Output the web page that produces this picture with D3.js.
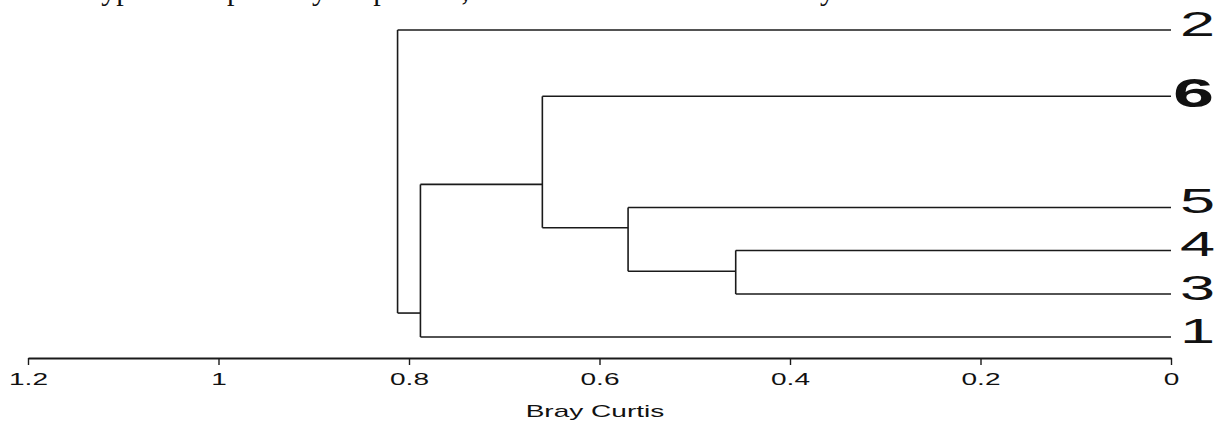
<!DOCTYPE html>
<html>
<head>
<meta charset="utf-8">
<script src="https://cdn.jsdelivr.net/npm/d3@7"></script>
<style>
  body { margin: 0; background: #fff; }
  svg { display: block; }
</style>
</head>
<body>
<div id="dendro"></div>
<script>
var svgWidth = 1217;
var svgHeight = 425;

// leaves, top to bottom, and their row position (0 = top leaf, 1 = bottom leaf)
var leaves = ["2", "6", "5", "4", "3", "1"];
var leafRow = [0, 0.216, 0.578, 0.718, 0.860, 1];

// merges: two children, Bray Curtis height, row where the node joins its parent
var mergeLeft = ["4", "5", "6", "1", "2"];
var mergeRight = ["3", "m0", "m1", "m2", "m3"];
var mergeHeight = [0.457, 0.570, 0.660, 0.788, 0.812];
var mergeRow = [0.786, 0.644, 0.503, 0.922, null];

var tickValues = [1.2, 1, 0.8, 0.6, 0.4, 0.2, 0];

var svg = d3.select("#dendro")
  .append("svg")
  .attr("width", svgWidth)
  .attr("height", svgHeight);

var xScale = d3.scaleLinear().domain([1.2, 0]).range([28, 1171]);
var yScale = d3.scaleLinear().domain([0, 1]).range([30, 337]);
var axisY = 358;

// cut-off line of body text above the figure
var topText = svg.append("text")
  .attr("y", 0)
  .attr("font-family", "Liberation Serif, Times New Roman, serif")
  .attr("font-size", "30px")
  .attr("fill", "#111");
[["types is", 93], ["possibly", 227], ["explained, which is further shown", 345], ["by", 805]]
  .forEach(function(w) {
    topText.append("tspan").attr("x", w[1]).text(w[0]);
  });

// row and height of every node
var rowOf = {};
var heightOf = {};
leaves.forEach(function(l, i) { rowOf[l] = leafRow[i]; heightOf[l] = 0; });
var parentOf = {};
mergeLeft.forEach(function(a, i) {
  var id = "m" + i;
  var b = mergeRight[i];
  heightOf[id] = mergeHeight[i];
  rowOf[id] = mergeRow[i];
  parentOf[a] = id;
  parentOf[b] = id;
});

var lineColor = "#1a1a1a";
var links = svg.append("g")
  .attr("stroke", lineColor)
  .attr("stroke-width", 1.6)
  .attr("fill", "none");

// horizontal segments from each node to its parent
Object.keys(parentOf).forEach(function(n) {
  var p = parentOf[n];
  links.append("line")
    .attr("x1", xScale(heightOf[n]))
    .attr("x2", xScale(heightOf[p]))
    .attr("y1", yScale(rowOf[n]))
    .attr("y2", yScale(rowOf[n]));
});

// vertical segments of each merge
mergeLeft.forEach(function(a, i) {
  var b = mergeRight[i];
  links.append("line")
    .attr("x1", xScale(mergeHeight[i]))
    .attr("x2", xScale(mergeHeight[i]))
    .attr("y1", yScale(rowOf[a]))
    .attr("y2", yScale(rowOf[b]));
});

// leaf labels
svg.append("g").selectAll("text")
  .data(leaves)
  .enter()
  .append("text")
  .attr("transform", function(d) {
    var bold = d === "6";
    var x = bold ? 1173 : 1180;
    var y = yScale(rowOf[d]) + (bold ? 11 : 6);
    return "translate(" + x + "," + y + ") scale(1.8,1)";
  })
  .attr("font-family", "Liberation Sans, Arial, sans-serif")
  .attr("font-size", function(d) { return d === "6" ? "41px" : "35px"; })
  .attr("font-weight", function(d) { return d === "6" ? "bold" : "normal"; })
  .attr("fill", "#111")
  .text(function(d) { return d; });

// axis
var bottomAxis = d3.axisBottom(xScale)
  .tickValues(tickValues)
  .tickSize(7)
  .tickSizeOuter(0)
  .tickFormat(function(d) { return String(d); });

var axisG = svg.append("g")
  .attr("transform", "translate(0," + axisY + ")")
  .call(bottomAxis);

axisG.select(".domain").attr("stroke", lineColor).attr("stroke-width", 1.8);
axisG.selectAll(".tick line").attr("stroke", lineColor).attr("stroke-width", 1.4);
axisG.selectAll(".tick text")
  .attr("y", 0)
  .attr("dy", 0)
  .attr("transform", "translate(0,27) scale(1.7,1)")
  .attr("font-family", "Liberation Sans, Arial, sans-serif")
  .attr("font-size", "16.5px")
  .attr("fill", "#111");

svg.append("text")
  .attr("transform", "translate(595,417) scale(1.65,1)")
  .attr("text-anchor", "middle")
  .attr("font-family", "Liberation Sans, Arial, sans-serif")
  .attr("font-size", "17px")
  .attr("fill", "#111")
  .text("Bray Curtis");
</script>
</body>
</html>
